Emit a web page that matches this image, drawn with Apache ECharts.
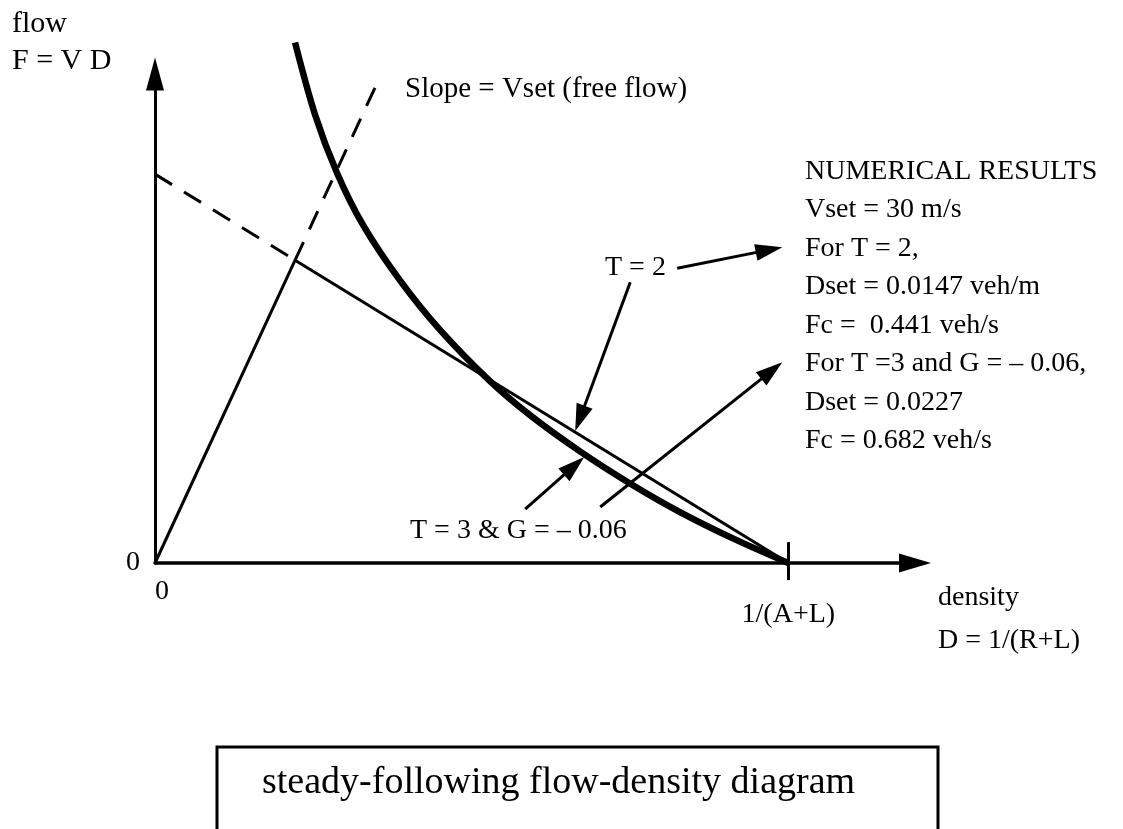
<!DOCTYPE html>
<html>
<head>
<meta charset="utf-8">
<title>steady-following flow-density diagram</title>
<script src="https://cdn.jsdelivr.net/npm/echarts@6/dist/echarts.min.js"></script>
<style>
  html, body { margin: 0; padding: 0; background: #fff; }
  #chart { width: 1123px; height: 829px; }
</style>
</head>
<body>
<div id="chart"></div>
<script>
// Density is measured in units of the jam density 1/(A+L); flow uses the same scale.
const densityMax = 1.2;
const flowMax = 0.773;

const criticalPoint = [0.2212, 0.4787];   // (Dset, Fc) for T = 2
const jamPoint = [1, 0];                  // D = 1/(A+L)
const freeFlowEnd = [0.349, 0.755];       // end of the dashed Vset extension
const congestedIntercept = [0, 0.6147];   // dashed congested branch meets the flow axis

// steady-following curve for T = 3 & G = -0.06
const curveT3G = [
  [0.2211, 0.8227], [0.2526, 0.7090], [0.2874, 0.6166], [0.3284, 0.5345],
  [0.3868, 0.4467], [0.4500, 0.3684], [0.5289, 0.2874], [0.5921, 0.2337],
  [0.6711, 0.1764], [0.7500, 0.1257], [0.8289, 0.0805], [0.9158, 0.0373],
  [1, 0]
];

const jamTick = [[1, 0.033], [1, -0.027]];

// annotation arrows: [tail, tip]
const arrows = [
  [[0.8246, 0.4660], [0.9905, 0.4992]],
  [[0.7504, 0.4439], [0.6635, 0.2085]],
  [[0.5845, 0.0853], [0.6777, 0.1675]],
  [[0.7030, 0.0885], [0.9905, 0.3175]]
];

const xTickValues = [0, 1];
const xTickLabels = ['0', '1/(A+L)'];
const yTickValues = [0];
const yTickLabels = ['0'];

const resultLines = [
  'NUMERICAL RESULTS',
  'Vset = 30 m/s',
  'For T = 2,',
  'Dset = 0.0147 veh/m',
  'Fc =  0.441 veh/s',
  'For T =3 and G = \u2013 0.06,',
  'Dset = 0.0227',
  'Fc = 0.682 veh/s'
];

const FONT = '"Liberation Serif", "Times New Roman", serif';
const INK = '#000';

const chart = echarts.init(document.getElementById('chart'), null, { renderer: 'canvas' });

// arrowhead is centred on its point, so pull the shaft end back by half its length
const headW = 17, headL = 27;
const grid = { left: 155, right: 208, top: 74, bottom: 266 };
const unitPx = (1123 - grid.left - grid.right) / densityMax;
function arrowCoords(a) {
  const dx = a[1][0] - a[0][0], dy = a[1][1] - a[0][1];
  const len = Math.sqrt(dx * dx + dy * dy);
  const back = (headL / 2) / unitPx;
  return [a[0], [a[1][0] - dx / len * back, a[1][1] - dy / len * back]];
}

function text(str, x, y, size, extra) {
  return Object.assign({
    type: 'text', x: x, y: y, silent: true,
    style: {
      text: str, font: size + 'px ' + FONT, fill: INK,
      align: 'left', verticalAlign: 'middle',
      textAlign: 'left', textVerticalAlign: 'middle'
    }
  }, extra || {});
}

const lineStyle = (w, type) => ({ color: INK, width: w, type: type || 'solid' });

const option = {
  backgroundColor: '#fff',
  animation: false,
  grid: grid,
  xAxis: {
    type: 'value', min: 0, max: densityMax,
    splitLine: { show: false },
    axisTick: { show: false },
    axisLine: {
      show: true, onZero: false,
      lineStyle: { color: INK, width: 3.5 },
      symbol: ['none', 'triangle'], symbolSize: [19, 32]
    },
    axisLabel: {
      customValues: xTickValues,
      margin: 15,
      color: INK, fontFamily: FONT, fontSize: 28,
      formatter: function (v) {
        const i = xTickValues.indexOf(v);
        return i === 0 ? '{z|' + xTickLabels[0] + '}' : '{j|' + xTickLabels[i] + '}';
      },
      rich: {
        z: { fontFamily: FONT, fontSize: 28, color: INK, lineHeight: 28, padding: [0, 0, 0, 14] },
        j: { fontFamily: FONT, fontSize: 28, color: INK, lineHeight: 73 }
      }
    }
  },
  yAxis: {
    type: 'value', min: 0, max: flowMax,
    splitLine: { show: false },
    axisTick: { show: false },
    axisLine: {
      show: true, onZero: false,
      lineStyle: { color: INK, width: 3 },
      symbol: ['none', 'triangle'], symbolSize: [18, 33]
    },
    axisLabel: {
      customValues: yTickValues,
      margin: 15,
      color: INK, fontFamily: FONT, fontSize: 28,
      formatter: function (v) { return yTickLabels[yTickValues.indexOf(v)]; }
    }
  },
  series: [
    { name: 'free flow', type: 'line', data: [[0, 0], criticalPoint], symbol: 'none', clip: false,
      lineStyle: lineStyle(3) },
    { name: 'free flow extension', type: 'line', data: [criticalPoint, freeFlowEnd], symbol: 'none', clip: false,
      lineStyle: lineStyle(3, [20, 14]) },
    { name: 'T = 2', type: 'line', data: [criticalPoint, jamPoint], symbol: 'none', clip: false,
      lineStyle: lineStyle(3) },
    { name: 'T = 2 extension', type: 'line', data: [congestedIntercept, criticalPoint], symbol: 'none', clip: false,
      lineStyle: lineStyle(3, [20, 14]) },
    { name: 'T = 3 & G = -0.06', type: 'line', data: curveT3G, symbol: 'none', clip: false,
      smooth: 0.3, lineStyle: lineStyle(6.5) },
    { name: 'jam tick', type: 'lines', coordinateSystem: 'cartesian2d', clip: false,
      data: [{ coords: jamTick }], lineStyle: { color: INK, width: 3, opacity: 1 }, silent: true },
    { name: 'arrows', type: 'lines', coordinateSystem: 'cartesian2d', clip: false,
      symbol: ['none', 'triangle'], symbolSize: [0, [headW, headL]],
      data: arrows.map(a => ({ coords: arrowCoords(a) })),
      lineStyle: { color: INK, width: 3, opacity: 1 },
      itemStyle: { color: INK }, silent: true }
  ],
  graphic: [
    text('flow', 12, 24, 30),
    text('F = V D', 12, 61, 30),
    text('Slope = Vset (free flow)', 405, 89, 29),
    text('T = 2', 605, 268, 28),
    text('T = 3 & G = \u2013 0.06', 410, 531, 28),
    text('density', 938, 598, 28),
    text('D = 1/(R+L)', 938, 641, 28),
    {
      type: 'text', x: 805, y: 152, silent: true,
      style: {
        text: resultLines.join('\n'), font: '28px ' + FONT, fill: INK, lineHeight: 38.5,
        align: 'left', verticalAlign: 'top', textAlign: 'left', textVerticalAlign: 'top'
      }
    },
    {
      type: 'rect', silent: true,
      shape: { x: 217, y: 747, width: 721, height: 200 },
      style: { fill: 'none', stroke: INK, lineWidth: 3 }
    },
    text('steady-following flow-density diagram', 262, 783, 38)
  ]
};

chart.setOption(option);
</script>
</body>
</html>
